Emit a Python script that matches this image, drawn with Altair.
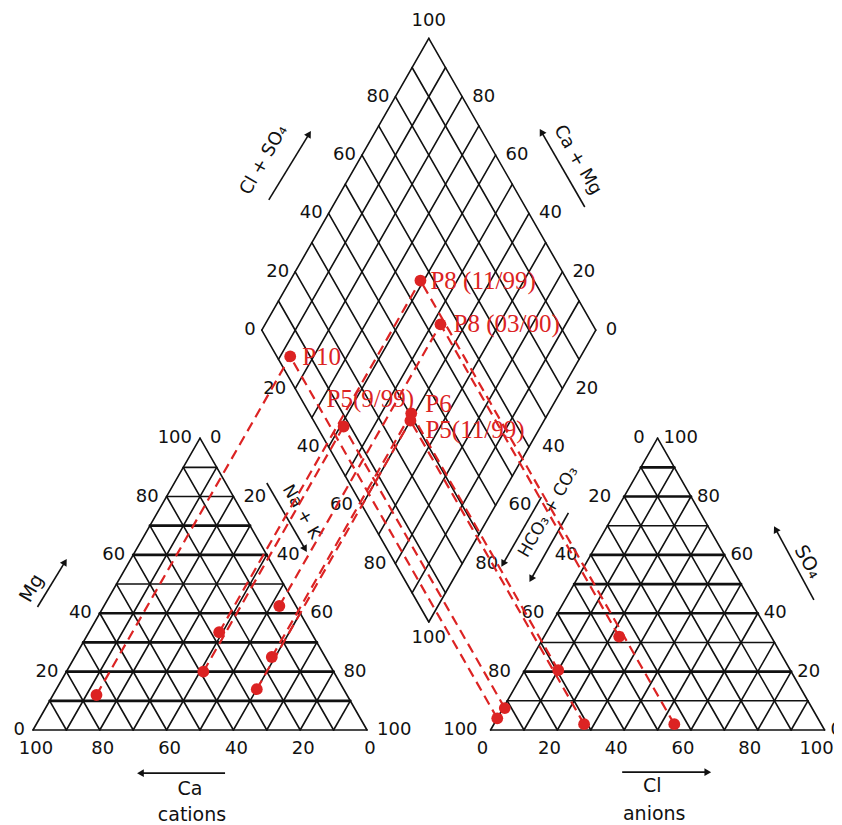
import altair as alt
import pandas as pd
import numpy as np

# ---------------- data (percent of meq) ----------------
samples = ["P10", "P5(9/99)", "P8 (11/99)", "P8 (03/00)", "P6", "P5(11/99)"]
ca = [75, 39, 27.5, 5, 16, 26]
mg = [12, 20, 33.5, 42.5, 25, 14]
cl = [0, 0.5, 54, 22.5, 10, 27]
so4 = [4, 7.5, 2, 32, 20.5, 2]

tick_values = [0, 20, 40, 60, 80, 100]
grid_values = [0, 10, 20, 30, 40, 50, 60, 70, 80, 90]
diamond_values = [0, 10, 20, 30, 40, 50, 60, 70, 80, 90, 100]
bold_mg = [10, 20, 30, 40, 60, 70]
bold_so4 = [20, 40, 50, 60, 80, 90]

RED = "#dc2323"
INK = "#111111"

# ---------------- Piper geometry (units: triangle side = 100) ----------------
HH = np.sqrt(3) / 2
GAP = 37
X_AN = 100 + GAP
XM = 100 + GAP / 2
D = GAP * HH


def cat_xy(ca_, mg_):
    nak = 100 - ca_ - mg_
    return nak + mg_ / 2, mg_ * HH


def an_xy(cl_, so4_):
    return X_AN + cl_ + so4_ / 2, so4_ * HH


def dia_xy(c, a):
    return XM - c / 2 + a / 2, D + HH * (c + a)


# ---------------- canvas / scales ----------------
SX, SY = 3.34, 3.37
W, H = 826, 817
X0_PX, Y0_PX = 25.0, 722
x_dom = [-X0_PX / SX, (W - X0_PX) / SX]
y_dom = [(Y0_PX - H) / SY, Y0_PX / SY]
XS = alt.Scale(domain=x_dom, nice=False, zero=False)
YS = alt.Scale(domain=y_dom, nice=False, zero=False)


def X(f="x"):
    return alt.X(f"{f}:Q", scale=XS, axis=None)


def Y(f="y"):
    return alt.Y(f"{f}:Q", scale=YS, axis=None)


# ---------------- grid segments ----------------
segs = []


def seg(p, q, w):
    segs.append(dict(x=p[0], y=p[1], x2=q[0], y2=q[1], w=w))


for v in grid_values:
    # cation triangle
    seg(cat_xy(100 - v, v), cat_xy(0, v), 2.7 if v in bold_mg else 1.6)
    seg(cat_xy(100 - v, 0), cat_xy(0, 100 - v), 1.6)
    seg(cat_xy(v, 0), cat_xy(v, 100 - v), 1.6)
    # anion triangle
    seg(an_xy(0, v), an_xy(100 - v, v), 2.7 if v in bold_so4 else 1.6)
    seg(an_xy(v, 0), an_xy(v, 100 - v), 1.6)
    seg(an_xy(100 - v, 0), an_xy(0, 100 - v), 1.6)
for v in diamond_values:
    seg(dia_xy(v, 0), dia_xy(v, 100), 1.6)
    seg(dia_xy(0, v), dia_xy(100, v), 1.6)
seg_df = pd.DataFrame(segs)

grid = alt.Chart(seg_df).mark_rule(color=INK, strokeCap="round").encode(
    x=X(), y=Y(), x2="x2:Q", y2="y2:Q",
    strokeWidth=alt.StrokeWidth("w:Q", scale=None),
)

# ---------------- sample positions ----------------
rows = []
proj = []
for s, a_, b_, c_, d_ in zip(samples, ca, mg, cl, so4):
    cx, cy = cat_xy(a_, b_)
    ax, ay = an_xy(c_, d_)
    dx_, dy_ = dia_xy(a_ + b_, c_ + d_)
    rows += [dict(s=s, x=cx, y=cy, part="cat"), dict(s=s, x=ax, y=ay, part="an"),
             dict(s=s, x=dx_, y=dy_, part="dia")]
    proj += [dict(x=cx, y=cy, x2=dx_, y2=dy_), dict(x=ax, y=ay, x2=dx_, y2=dy_)]
pts = pd.DataFrame(rows)
proj_df = pd.DataFrame(proj)

proj_lines = alt.Chart(proj_df).mark_rule(color=RED, strokeWidth=2.2, strokeDash=[10, 6]).encode(
    x=X(), y=Y(), x2="x2:Q", y2="y2:Q")
points = alt.Chart(pts).mark_circle(color=RED, size=140, opacity=1).encode(x=X(), y=Y())

label_style = {
    "P10": (12, 1), "P8 (11/99)": (10, 0), "P8 (03/00)": (13, 0),
    "P5(9/99)": (-17, -27), "P6": (14, -9), "P5(11/99)": (15, 9),
}
dia_pts = pts[pts.part == "dia"]
sample_labels = []
for s in samples:
    ddx, ddy = label_style[s]
    sample_labels.append(
        alt.Chart(dia_pts[dia_pts.s == s]).mark_text(
            align="left", baseline="middle", dx=ddx, dy=ddy, color=RED,
            font="Liberation Serif", fontSize=25,
        ).encode(x=X(), y=Y(), text="s:N")
    )

# ---------------- tick labels ----------------
groups = []


def group(items, align, dx=0, dy=0):
    df = pd.DataFrame([dict(x=p[0], y=p[1], t=str(t)) for p, t in items])
    groups.append(alt.Chart(df).mark_text(
        align=align, baseline="middle", dx=dx, dy=dy, font="DejaVu Sans",
        fontSize=18, color=INK).encode(x=X(), y=Y(), text="t:N"))


group([(cat_xy(v, 0), v) for v in tick_values], "center", dx=3, dy=19)
group([(cat_xy(100 - v, v), v) for v in tick_values], "right", dx=-8)
group([(cat_xy(0, 100 - v), v) for v in tick_values], "left", dx=10)
group([(an_xy(v, 0), v) for v in tick_values], "center", dx=-8, dy=19)
group([(an_xy(0, 100 - v), v) for v in tick_values], "right", dx=-13)
group([(an_xy(100 - v, v), v) for v in tick_values], "left", dx=6)
group([(dia_xy(100, v), v) for v in tick_values[:-1]], "right", dx=-6)
group([(dia_xy(v, 100), v) for v in tick_values[:-1]], "left", dx=10)
group([(dia_xy(100 - v, 0), v) for v in tick_values[1:-1]], "right", dx=-9)
group([(dia_xy(0, 100 - v), v) for v in tick_values[1:-1]], "left", dx=13)
group([(dia_xy(100, 100), 100)], "center", dy=-17)
group([(dia_xy(0, 0), 100)], "center", dy=16)

# ---------------- axis titles and arrows ----------------
titles = pd.DataFrame([
    dict(t="Mg", x=-0.4, y=42.1, a=300, f=19),
    dict(t="Cl + SO₄", x=69.2, y=169.1, a=300, f=18),
    dict(t="Ca + Mg", x=163.0, y=169.1, a=60, f=18),
    dict(t="SO₄", x=232.0, y=49.9, a=60, f=19),
    dict(t="Na + K", x=80.4, y=64.7, a=60, f=17),
    dict(t="HCO₃ + CO₃", x=154.3, y=64.7, a=300, f=17),
    dict(t="Ca", x=47.0, y=-17.5, a=0, f=19),
    dict(t="cations", x=47.6, y=-25.2, a=0, f=19),
    dict(t="Cl", x=185.4, y=-16.6, a=0, f=19),
    dict(t="anions", x=186.0, y=-24.9, a=0, f=19),
])
title_marks = alt.Chart(titles).mark_text(
    align="center", baseline="middle", font="DejaVu Sans", color=INK
).encode(x=X(), y=Y(), text="t:N", angle=alt.Angle("a:Q", scale=None),
         size=alt.Size("f:Q", scale=None))

arrow_list = [
    ((1.34, 36.5), (9.4, 49.6)),
    ((70.6, 157.3), (82.5, 176.6)),
    ((165.2, 155.2), (152.4, 177.2)),
    ((233.8, 38.6), (222.5, 59.3)),
    ((70.0, 73.3), (81.3, 54.0)),
    ((152.2, 69.1), (140.9, 49.6)),
    ((160.3, 64.4), (149.3, 45.1)),
    ((57.5, -12.8), (32.5, -12.8)),
    ((176.4, -12.5), (201.7, -12.5)),
]
arr_rows = []
for (tx, ty), (hx, hy) in arrow_list:
    sdx, sdy = (hx - tx) * SX, -(hy - ty) * SY
    ang = (np.degrees(np.arctan2(sdx, -sdy)) + 360) % 360
    arr_rows.append(dict(x=tx, y=ty, x2=hx, y2=hy, ang=ang))
arr_df = pd.DataFrame(arr_rows)
arrow_shafts = alt.Chart(arr_df).mark_rule(color=INK, strokeWidth=1.6).encode(
    x=X(), y=Y(), x2="x2:Q", y2="y2:Q")
arrow_heads = alt.Chart(arr_df).mark_point(
    shape="triangle", filled=True, color=INK, size=60, opacity=1
).encode(x=X("x2"), y=Y("y2"), angle=alt.Angle("ang:Q", scale=None))

chart = alt.layer(
    grid, arrow_shafts, arrow_heads, *groups, title_marks, proj_lines, points, *sample_labels
).properties(
    width=W, height=H, autosize=alt.AutoSizeParams(type="none"), padding=0
).configure_view(stroke=None)

chart.save("out.html", embed_options={"renderer": "svg", "actions": False})
